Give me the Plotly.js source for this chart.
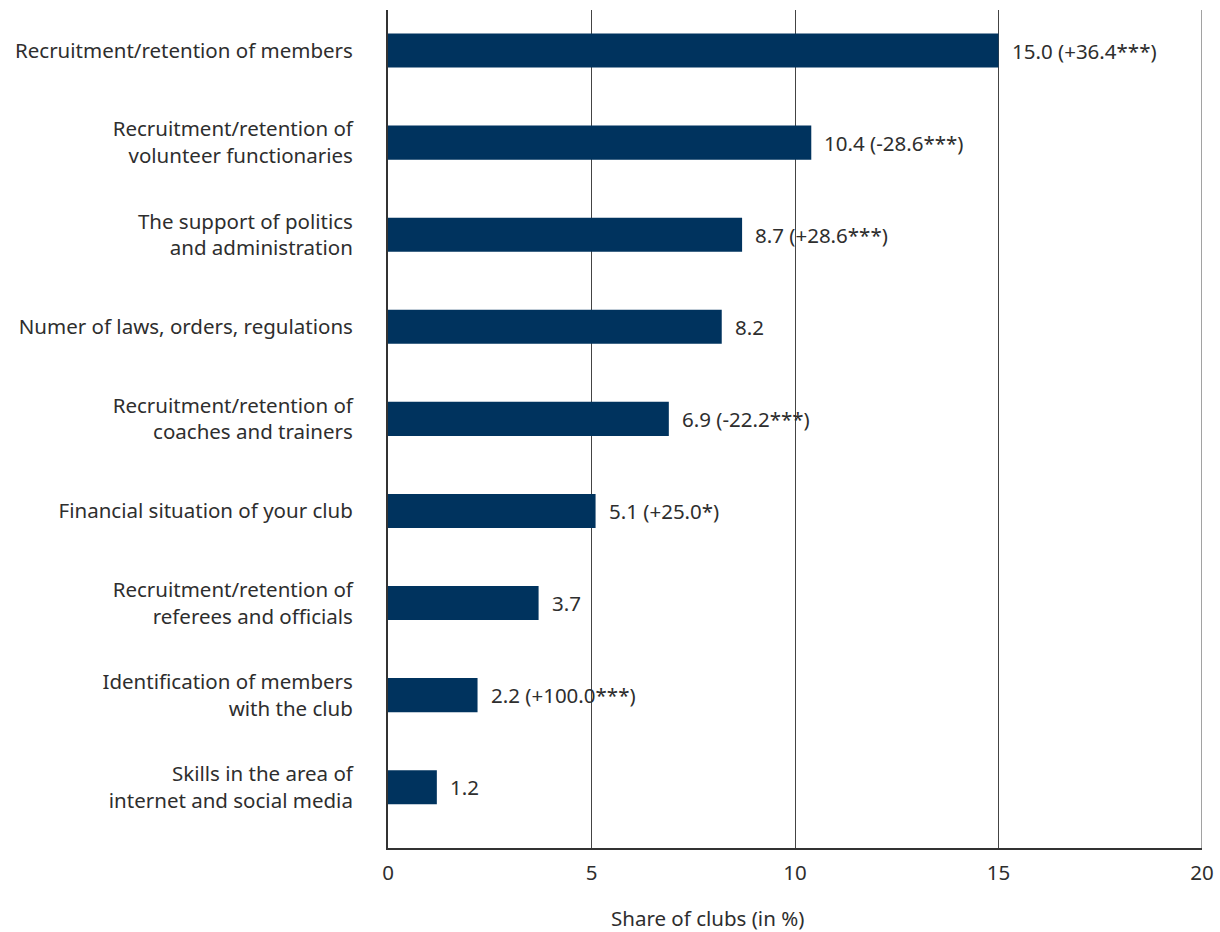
<!DOCTYPE html>
<html>
<head>
<meta charset="utf-8">
<script src="https://cdn.plot.ly/plotly-3.0.1.min.js"></script>
<style>html,body{margin:0;padding:0;background:#fff;}#chart{width:1220px;height:932px;}</style>
</head>
<body>
<div id="chart"></div>
<script>
const categories = [
  "Recruitment/retention of members",
  "Recruitment/retention of<br>volunteer functionaries",
  "The support of politics<br>and administration",
  "Numer of laws, orders, regulations",
  "Recruitment/retention of<br>coaches and trainers",
  "Financial situation of your club",
  "Recruitment/retention of<br>referees and officials",
  "Identification of members<br>with the club",
  "Skills in the area of<br>internet and social media"
];
const values = [15.0, 10.4, 8.7, 8.2, 6.9, 5.1, 3.7, 2.2, 1.2];
const changes = ["+36.4***", "-28.6***", "+28.6***", "", "-22.2***", "+25.0*", "", "+100.0***", ""];
const xTicks = [0, 5, 10, 15, 20];
const xTitle = "Share of clubs (in %)";

const font = "Noto Sans, Open Sans, sans-serif";
const textColor = "#2e2e2e";
const fs = 20.5;

const labels = values.map((v, i) => v.toFixed(1) + (changes[i] ? " (" + changes[i] + ")" : ""));

const trace = {
  type: "bar",
  orientation: "h",
  x: values,
  y: categories,
  width: 0.37,
  marker: {color: "#00335e"},
  hoverinfo: "none"
};

const annotations = values.map((v, i) => ({
  x: v, y: categories[i], xref: "x", yref: "y",
  text: labels[i], showarrow: false, xanchor: "left", yanchor: "middle",
  xshift: 11, font: {family: font, size: fs, color: textColor}
}));
annotations.push({
  x: 0.392, y: -0.083, xref: "paper", yref: "paper", yanchor: "middle",
  text: xTitle, showarrow: false, font: {family: font, size: fs, color: textColor}
});

const layout = {
  width: 1220, height: 932,
  margin: {l: 388, r: 18, t: 10, b: 84},
  paper_bgcolor: "#fff", plot_bgcolor: "#fff",
  showlegend: false,
  font: {family: font, size: fs, color: textColor},
  xaxis: {
    range: [0, 20], tickvals: xTicks, ticktext: xTicks.map(String),
    showgrid: true, gridcolor: "#444", gridwidth: 1,
    zeroline: false, showline: true, linecolor: "#333", linewidth: 1.5,
    ticks: "", ticklabelstandoff: 6,
    tickfont: {family: font, size: fs, color: textColor},
    fixedrange: true
  },
  yaxis: {
    type: "category", categoryorder: "array", categoryarray: categories,
    range: [8.66, -0.44],
    showgrid: false, zeroline: false, showline: true, linecolor: "#333", linewidth: 2,
    ticks: "", ticklabelstandoff: 29,
    tickfont: {family: font, size: fs, color: textColor},
    fixedrange: true
  },
  shapes: [{type: "line", xref: "x", yref: "paper", x0: 20, x1: 20, y0: 0, y1: 1, line: {color: "#444", width: 1}}],
  annotations: annotations
};

Plotly.newPlot("chart", [trace], layout, {displayModeBar: false, staticPlot: true});
</script>
</body>
</html>
